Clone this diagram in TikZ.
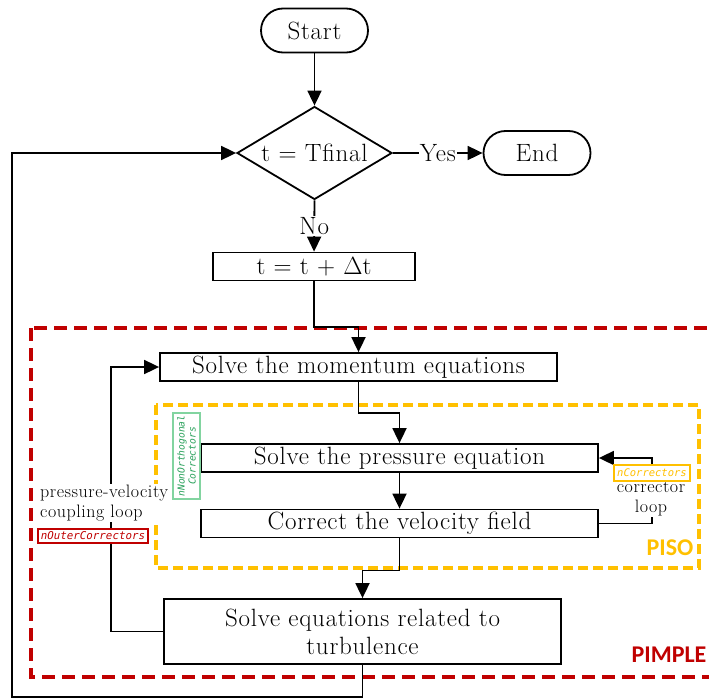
\documentclass[tikz,border=0pt]{standalone}
\usepackage{fontspec}
\setmainfont{Latin Modern Roman}[LetterSpace=3]
\newfontfamily\labelfont{Carlito}
\newfontfamily\codefont{DejaVu Sans Mono}
\usetikzlibrary{shapes.geometric,arrows.meta}
\definecolor{pimplered}{HTML}{C00000}
\definecolor{pisoorange}{HTML}{FFC000}
\definecolor{gtext}{RGB}{40,160,90}
\definecolor{gborder}{RGB}{130,212,160}
\tikzset{
  bigtext/.style={font=\fontsize{25}{28}\selectfont},
  smalltext/.style={font=\fontsize{18}{20}\selectfont},
  procbox/.style={draw,line width=1.8pt,rectangle,minimum height=28pt,inner sep=1pt,bigtext,fill=white},
  term/.style={draw,line width=1.8pt,rectangle,rounded corners=22pt,minimum width=107pt,minimum height=44pt,bigtext},
  decision/.style={draw,line width=1.8pt,diamond,aspect=1.67,inner sep=0pt,minimum width=155pt,minimum height=93pt,bigtext},
  arr/.style={line width=1.8pt,-{Triangle[length=15pt,width=14pt]}},
  edgelabel/.style={fill=white,inner sep=1pt,bigtext},
  loopdash/.style={line width=3.5pt,draw=pimplered,dash pattern=on 13pt off 7pt},
  pisodash/.style={line width=3.5pt,draw=pisoorange,dash pattern=on 10pt off 5pt},
  codetag/.style={fill=white,inner sep=1.5pt,line width=1.3pt,font=\codefont\itshape\fontsize{10.8}{12}\selectfont},
}
\begin{document}
\begin{tikzpicture}[x=1pt,y=-1pt]
\useasboundingbox (0,0) rectangle (709,698);
% frames
\draw[loopdash] (31,328) rectangle (730,677);
\draw[pisodash] (156,405) rectangle (699,568);
\node[font=\labelfont\bfseries\fontsize{24}{28}\selectfont,text=pimplered,inner sep=0pt] (pimple) at (669,655) {PIMPLE};
\node[font=\labelfont\bfseries\fontsize{24}{28}\selectfont,text=pisoorange,inner sep=0pt] (piso) at (670,548) {PISO};
% nodes
\node[term] (start) at (314.5,30.5) {Start};
\node[decision] (dec) at (314.5,153) {t = Tfinal};
\node[term] (end) at (537,153) {End};
\node[procbox,minimum width=202pt] (tbox) at (314,266.5) {t = t + $\Delta$t};
\node[procbox,minimum width=397pt] (mom) at (358.5,367) {Solve the momentum equations};
\node[procbox,minimum width=397pt] (pres) at (399.5,458) {Solve the pressure equation};
\node[procbox,minimum width=397pt] (vel) at (399.5,523.5) {Correct the velocity field};
\node[procbox,minimum width=397pt,minimum height=65pt,align=center] (turb) at (362.5,631.5) {Solve equations related to\\turbulence};
\coordinate (corner) at (12,697);
% connectors
\draw[arr] (start.south) -- (dec.north);
\draw[arr] (dec.east) -- node[edgelabel] (yes) {Yes} (end.west);
\draw[arr] (dec.south) -- node[edgelabel] (no) {No} (tbox.north);
\draw[arr] (tbox.south) -- ++(0,45.5) -| (mom.north);
\draw[arr] (mom.south) -- ++(0,31) -| (pres.north);
\draw[arr] (pres.south) -- (vel.north);
\draw[arr] (vel.east) -- ++(53,0) |- (pres.east);
\draw[arr] (vel.south) -- ++(0,32) -| (turb.north);
\draw[arr] (turb.west) -- ++(-52,0) |- (mom.west);
\draw[arr] (turb.south) |- (corner) |- (dec.west);
% loop labels
\node[smalltext,fill=white,inner sep=1pt,align=left,anchor=west] (pvl) at (39,503) {pressure-velocity\\coupling loop};
\node[smalltext,fill=white,inner sep=1pt,align=center] (cl) at (651,499) {corrector\\loop};
\node[codetag,draw=pimplered,text=pimplered,minimum width=110pt,minimum height=14pt] (outer) at (93,536) {nOuterCorrectors};
\node[codetag,draw=pisoorange,text=pisoorange,minimum width=76pt,minimum height=16pt,font=\codefont\itshape\fontsize{10.5}{12}\selectfont] (ncorr) at (652,473) {nCorrectors};
\node[codetag,draw=gborder,text=gtext,rotate=90,align=center,minimum width=86pt,minimum height=27pt,inner sep=0.5pt,font=\codefont\itshape\fontsize{9.6}{11}\selectfont] (nonorth) at (186.5,456) {nNonOrthogonal\\Correctors};
\end{tikzpicture}
\end{document}
